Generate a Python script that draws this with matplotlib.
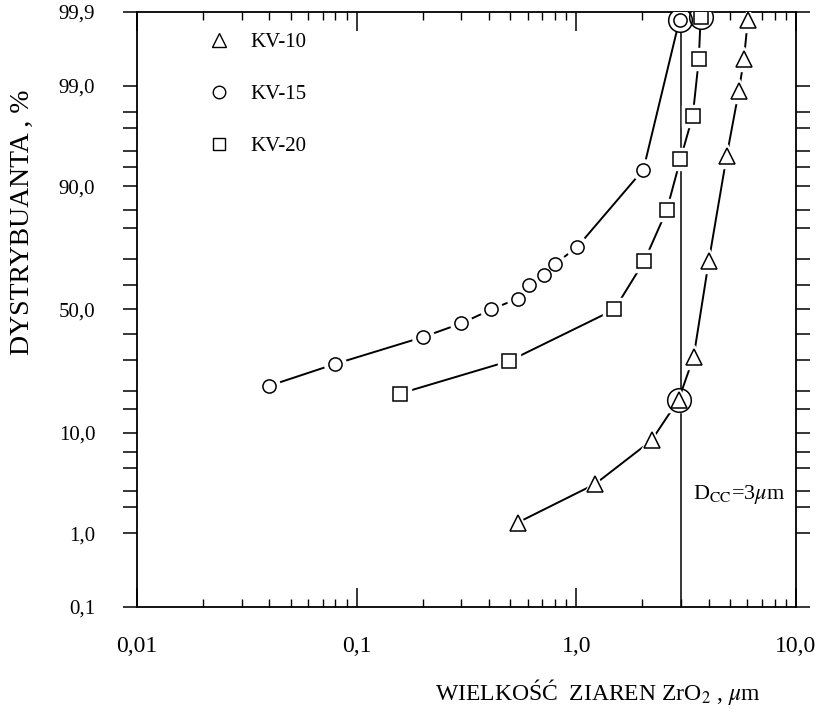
import numpy as np
import matplotlib
matplotlib.use("Agg")
import matplotlib.pyplot as plt
from matplotlib.lines import Line2D
from math import erf, sqrt

# grain size [um] and cumulative distribution [%]
kv10_x = [0.54, 1.22, 2.2, 2.92, 3.42, 4.01, 4.84, 5.49, 5.79, 6.04]
kv10_p = [1.34, 3.5, 8.7, 17.4, 31.1, 69.3, 94.5, 98.83, 99.53, 99.87]

kv15_x = [0.04, 0.08, 0.2, 0.3, 0.41, 0.54, 0.61, 0.71, 0.8, 1.01, 2.02, 2.95]
kv15_p = [21.4, 28.6, 38.7, 44.3, 50.0, 54.5, 60.2, 64.1, 68.2, 74.2, 92.7, 99.87]

kv20_x = [0.157, 0.494, 1.49, 2.04, 2.58, 2.98, 3.39, 3.61, 3.68]
kv20_p = [19.1, 29.6, 50.0, 69.3, 84.9, 94.1, 97.8, 99.53, 99.88]

# points marked with an extra large circle
ring_x = [2.92, 2.95, 3.68]
ring_p = [17.4, 99.87, 99.88]

x_major = [0.01, 0.1, 1.0, 10.0]
x_major_labels = ["0,01", "0,1", "1,0", "10,0"]
y_major = [0.1, 1.0, 10.0, 50.0, 90.0, 99.0, 99.9]
y_major_labels = ["0,1", "1,0", "10,0", "50,0", "90,0", "99,0", "99,9"]
y_minor = [2, 3, 5, 7, 15, 20, 30, 40, 60, 70, 80, 85, 93, 95, 97, 98]
d_cc = 3.0

# normal probability scale (percent <-> z)
_zg = np.linspace(-5.5, 5.5, 4001)
_pg = 100.0 * 0.5 * (1.0 + np.array([erf(v / sqrt(2.0)) for v in _zg]))


def prob_fwd(p):
    p = np.clip(np.asarray(p, dtype=float), _pg[0], _pg[-1])
    return np.interp(p, _pg, _zg)


def prob_inv(z):
    z = np.clip(np.asarray(z, dtype=float), _zg[0], _zg[-1])
    return np.interp(z, _zg, _pg)


plt.rcParams["font.family"] = ["Liberation Serif", "DejaVu Serif"]
plt.rcParams["mathtext.fontset"] = "stix"

fig = plt.figure(figsize=(8.19, 7.19), dpi=100)
ax = fig.add_axes([0.1673, 0.1558, 0.8046, 0.8275])
ax.set_xscale("log")
ax.set_yscale("function", functions=(prob_fwd, prob_inv))
ax.set_xlim(0.01, 10.0)
ax.set_ylim(0.1, 99.9)

lw = 1.4
series = [
    (kv10_x, kv10_p, "^", 11, "KV-10"),
    (kv15_x, kv15_p, "o", 9.5, "KV-15"),
    (kv20_x, kv20_p, "s", 10, "KV-20"),
]
for xs, ps, mk, ms, lab in series:
    ax.plot(xs, ps, color="black", lw=lw, zorder=2)
    # white halo so the line stops short of each marker
    ax.plot(xs, ps, ls="none", marker=mk, ms=ms + 6, mfc="white", mec="white", zorder=3)
    ax.plot(xs, ps, ls="none", marker=mk, ms=ms, mfc="white", mec="black", mew=1.1, zorder=4)

ax.plot(ring_x, ring_p, ls="none", marker="o", ms=17, mfc="none", mec="black", mew=1.1, zorder=5)

ax.axvline(d_cc, color="black", lw=1.1, zorder=1)
ax.text(3.4, 2.75, r"D$_{\rm CC}$=3$\mu$m", fontsize=16, ha="left", va="center")

# axes, ticks
for s in ax.spines.values():
    s.set_linewidth(1.3)
ax.set_xticks(x_major)
ax.set_xticklabels(x_major_labels, fontsize=17)
ax.tick_params(axis="x", which="major", direction="in", length=14, width=1.1,
               top=True, pad=21)
ax.tick_params(axis="x", which="minor", direction="in", length=6, width=1.0, top=True)

ax.set_yticks(y_major)
ax.set_yticklabels(y_major_labels, fontsize=15)
ax.set_yticks(y_minor, minor=True)
ax.yaxis.set_minor_formatter(matplotlib.ticker.NullFormatter())
ax.tick_params(axis="y", which="both", direction="out", length=10, width=1.1,
               right=True, pad=20)

handles = [
    Line2D([], [], ls="none", marker="^", ms=10, mfc="white", mec="black", mew=1.0),
    Line2D([], [], ls="none", marker="o", ms=9, mfc="white", mec="black", mew=1.0),
    Line2D([], [], ls="none", marker="s", ms=9, mfc="white", mec="black", mew=1.0),
]
ax.legend(handles, ["KV-10", "KV-15", "KV-20"], loc="upper left",
          bbox_to_anchor=(0.08, 0.997), frameon=False, fontsize=15,
          labelspacing=1.55, handletextpad=1.0, handlelength=1.0)

fig.text(0.027, 1 - 222 / 719, "DYSTRYBUANTA , %", rotation=90, fontsize=20,
         ha="center", va="center")
fig.text(598 / 819, 1 - 692 / 719, r"WIELKOŚĆ  ZIAREN ZrO$_2$ , $\mu$m",
         fontsize=17, ha="center", va="center")

fig.savefig("out.png", dpi=100, facecolor="white")
